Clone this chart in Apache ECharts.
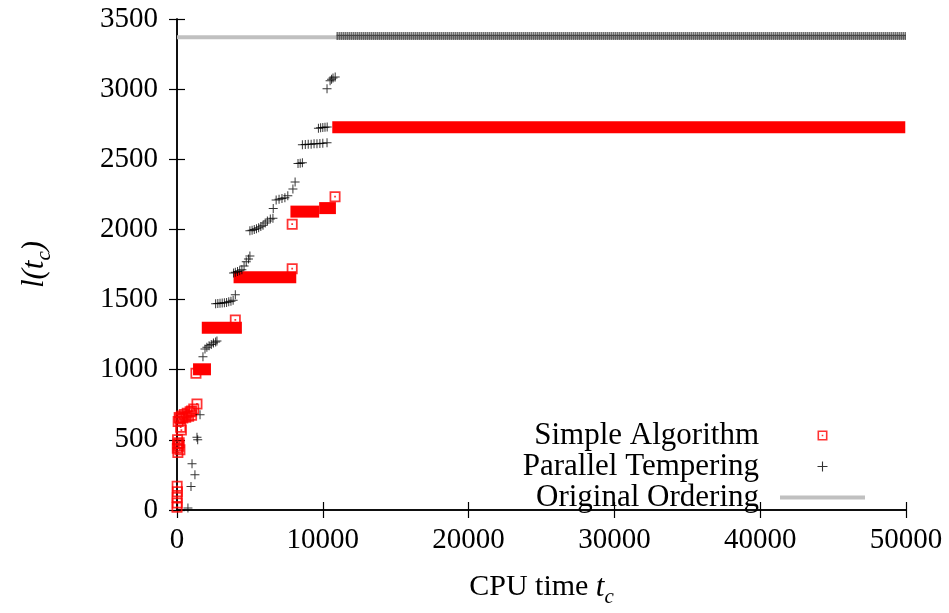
<!DOCTYPE html>
<html>
<head>
<meta charset="utf-8">
<script src="https://cdn.jsdelivr.net/npm/echarts@6/dist/echarts.min.js"></script>
<style>html,body{margin:0;padding:0;background:#fff}#c{width:949px;height:613px}</style>
</head>
<body>
<div id="c"></div>
<script>
// ---- data ----
const xTicks = [0, 10000, 20000, 30000, 40000, 50000];
const yTicks = [0, 500, 1000, 1500, 2000, 2500, 3000, 3500];

// Simple Algorithm: individual markers (CPU time, l)
const simpleT = [0, 20, 0, 30, 10, 60, 20, 60, 120, 40, 150, 200, 250, 300, 80, 150, 300, 500, 700, 900, 1000, 1150, 1370, 200, 400, 600, 800, 1000, 1300, 4000, 7900, 7900, 10840];
const simpleV = [20, 50, 90, 130, 170, 410, 440, 470, 455, 500, 480, 430, 590, 570, 630, 660, 670, 680, 690, 700, 705, 720, 756, 650, 655, 662, 668, 675, 975, 1355, 1720, 2037, 2233];
// Simple Algorithm: dense plateaus of overlapping markers (start, end, level)
const simpleBandStart = [1100, 1700, 3880, 7780, 9750, 10650];
const simpleBandEnd   = [2330, 4450, 8180, 9750, 10900, 49950];
const simpleBandLevel = [1003, 1300, 1660, 2127, 2152, 2728];

// Parallel Tempering markers
const ptT = [750, 960, 1030, 1230, 1370, 1420, 1580, 1780, 1920, 2050, 2200, 2350, 2500, 2650, 2740,
  2650, 2800, 2950, 3100, 3250, 3400, 3550, 3700, 3850, 4000,
  3880, 4000, 4150, 4300, 4450, 4600, 4750, 4900, 5000,
  5000, 5150, 5300, 5450, 5600, 5750, 5900, 6050, 6200, 6400, 6580,
  6600, 6800, 7000, 7200, 7400, 7600, 7950, 8100,
  8300, 8450, 8600,
  8600, 8800, 9000, 9200, 9400, 9600, 9800, 10000, 10290,
  9700, 9850, 10000, 10150, 10300,
  10290, 10500, 10600, 10700, 10850];
const ptV = [14, 168, 329, 252, 518, 500, 679, 1092, 1148, 1160, 1170, 1180, 1190, 1198, 1204,
  1470, 1472, 1474, 1476, 1478, 1480, 1484, 1488, 1495, 1535,
  1690, 1695, 1700, 1705, 1712, 1740, 1770, 1790, 1810,
  1990, 1995, 2000, 2005, 2012, 2020, 2030, 2045, 2060, 2075, 2080,
  2149, 2210, 2215, 2220, 2225, 2240, 2289, 2338,
  2470, 2472, 2475,
  2604, 2606, 2607, 2608, 2610, 2611, 2612, 2614, 2618,
  2722, 2724, 2726, 2728, 2730,
  3003, 3059, 3070, 3080, 3087];
// Parallel Tempering: dense run of markers after convergence (start, end, level)
const ptBandStart = [10950];
const ptBandEnd = [50000];
const ptBandLevel = [3378];

// Original Ordering (constant)
const origT = [0, 50000];
const origV = [3370, 3370];

// ---- chart ----
const FONT = 'Liberation Serif';
const squarePath = 'path://M0,0H10V10H0Z M1.6,1.6V8.4H8.4V1.6Z M4.2,4.2H5.8V5.8H4.2Z';
const plusPath = 'path://M4.45,0H5.55V4.45H10V5.55H5.55V10H4.45V5.55H0V4.45H4.45Z';
const RED = '#ff0000';

const zip = (a, b) => a.map((v, i) => [v, b[i]]);

const series = [];
series.push({
  name: 'Original Ordering', type: 'line', data: zip(origT, origV),
  symbol: 'none', lineStyle: { color: '#c0c0c0', width: 4 }, itemStyle: { color: '#c0c0c0' },
  z: 1, silent: true, animation: false
});
simpleBandStart.forEach((s, i) => {
  series.push({
    type: 'line', data: [[s, simpleBandLevel[i]], [simpleBandEnd[i], simpleBandLevel[i]]],
    symbol: 'none', lineStyle: { color: RED, width: 12, cap: 'butt' }, z: 3, animation: false, silent: true
  });
});
ptBandStart.forEach((s, i) => {
  series.push({
    type: 'line', data: [[s, ptBandLevel[i]], [ptBandEnd[i], ptBandLevel[i]]],
    symbol: 'none', lineStyle: { color: '#222', width: 8, type: [1, 1], cap: 'butt' }, z: 4, animation: false, silent: true
  });
  series.push({
    type: 'line', data: [[s, ptBandLevel[i] + 5], [ptBandEnd[i], ptBandLevel[i] + 5]],
    symbol: 'none', lineStyle: { color: '#444', width: 1.2 }, z: 4, animation: false, silent: true
  });
});
series.push({
  name: 'Simple Algorithm', type: 'scatter', data: zip(simpleT, simpleV),
  symbol: squarePath, symbolSize: 11, symbolKeepAspect: true, clip: false,
  itemStyle: { color: RED }, z: 5, animation: false
});
series.push({
  name: 'Parallel Tempering', type: 'scatter', data: zip(ptT, ptV),
  symbol: plusPath, symbolSize: 9, symbolKeepAspect: true, clip: false,
  itemStyle: { color: '#000' }, z: 6, animation: false
});

const axisLineStyle = { color: '#000', width: 1.5 };
const tickStyle = { show: true, inside: true, length: 8, lineStyle: { color: '#000', width: 1.2 } };
const labelStyle = { color: '#000', fontFamily: FONT, fontSize: 29, formatter: v => String(v) };
const richName = {
  it: { fontFamily: FONT, fontStyle: 'italic', fontSize: 31, color: '#000', lineHeight: 30, verticalAlign: 'top' },
  rm: { fontFamily: FONT, fontSize: 30, color: '#000', lineHeight: 30, verticalAlign: 'top' },
  sub: { fontFamily: FONT, fontStyle: 'italic', fontSize: 21, color: '#000', lineHeight: 21, padding: [15, 0, 0, 0], verticalAlign: 'top' }
};

const option = {
  backgroundColor: '#fff',
  animation: false,
  grid: { left: 177, right: 43, top: 19, bottom: 94 },
  legend: {
    data: [
      { name: 'Simple Algorithm' },
      { name: 'Parallel Tempering' },
      { name: 'Original Ordering', icon: 'path://M0,0H85V4H0Z', itemStyle: { color: '#c0c0c0' } }
    ],
    orient: 'vertical', right: 79, top: 415, align: 'right',
    itemWidth: 85, itemHeight: 10, itemGap: 0,
    textStyle: { fontFamily: FONT, fontSize: 31, color: '#000', lineHeight: 31, padding: [0, 16, 0, 0] },
    selectedMode: false
  },
  xAxis: [{
    type: 'value', min: 0, max: 50000, interval: 10000, position: 'bottom',
    axisLine: { show: true, lineStyle: axisLineStyle }, axisTick: tickStyle,
    axisLabel: Object.assign({ margin: 16 }, labelStyle), splitLine: { show: false },
    name: '{rm|CPU time }{it|t}{sub|c}', nameLocation: 'middle', nameGap: 62,
    nameTextStyle: { rich: richName }
  }, {
    type: 'value', min: 0, max: 50000, interval: 10000, position: 'top',
    axisLine: { show: true, lineStyle: axisLineStyle }, axisTick: tickStyle,
    axisLabel: { show: false }, splitLine: { show: false }
  }],
  yAxis: [{
    type: 'value', min: 0, max: 3500, interval: 500, position: 'left',
    axisLine: { show: true, lineStyle: axisLineStyle }, axisTick: tickStyle,
    axisLabel: Object.assign({ margin: 19 }, labelStyle), splitLine: { show: false },
    name: '{it|l(t}{sub|c}{it|)}', nameLocation: 'middle', nameGap: 128, nameRotate: 90,
    nameTextStyle: { rich: richName }
  }, {
    type: 'value', min: 0, max: 3500, interval: 500, position: 'right',
    axisLine: { show: true, lineStyle: axisLineStyle }, axisTick: tickStyle,
    axisLabel: { show: false }, splitLine: { show: false }
  }],
  series: series
};

const chart = echarts.init(document.getElementById('c'), null, { renderer: 'canvas' });
chart.setOption(option);
</script>
</body>
</html>
